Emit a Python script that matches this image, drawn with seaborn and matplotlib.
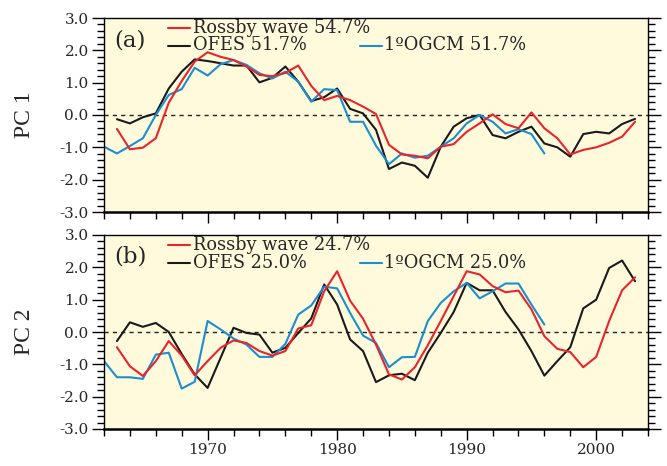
import numpy as np
import pandas as pd
import matplotlib
matplotlib.use("Agg")
import matplotlib.pyplot as plt
from matplotlib.ticker import MultipleLocator, FormatStrFormatter
import seaborn as sns

# ---------------- data ----------------
years_red = list(range(1963, 2004))
years_black = list(range(1963, 2004))
years_blue = list(range(1962, 1997))

pc1_rossby = [-0.43, -1.06, -1.01, -0.72, 0.38, 1.05, 1.65, 1.94, 1.80, 1.70,
              1.50, 1.24, 1.20, 1.30, 1.53, 0.90, 0.46, 0.59, 0.46, 0.26,
              0.03, -0.92, -1.22, -1.26, -1.34, -0.98, -0.90, -0.52, -0.26, 0.02,
              -0.28, -0.41, 0.08, -0.41, -0.72, -1.22, -1.08, -1.00, -0.86, -0.67,
              -0.21]
pc1_ofes = [-0.13, -0.26, -0.07, 0.05, 0.82, 1.34, 1.72, 1.67, 1.60, 1.53,
            1.53, 1.01, 1.15, 1.50, 1.03, 0.43, 0.55, 0.82, 0.19, 0.05,
            -0.46, -1.67, -1.47, -1.57, -1.94, -0.98, -0.36, -0.10, 0.00, -0.62,
            -0.72, -0.52, -0.36, -0.88, -1.00, -1.29, -0.59, -0.52, -0.57, -0.28,
            -0.12]
pc1_ogcm = [-0.98, -1.19, -0.96, -0.72, 0.00, 0.62, 0.80, 1.46, 1.22, 1.57,
            1.70, 1.55, 1.29, 1.13, 1.34, 1.03, 0.41, 0.80, 0.77, -0.21,
            -0.21, -0.95, -1.52, -1.19, -1.32, -1.26, -0.98, -0.72, -0.26, 0.00,
            -0.21, -0.57, -0.44, -0.59, -1.19]

pc2_rossby = [-0.47, -1.06, -1.36, -0.90, -0.28, -0.73, -1.34, -0.90, -0.49, -0.26,
              -0.34, -0.59, -0.73, -0.59, 0.11, 0.21, 1.26, 1.88, 0.97, 0.41,
              -0.39, -1.31, -1.47, -1.09, -0.41, 0.34, 1.11, 1.88, 1.78, 1.42,
              1.23, 1.28, 0.70, -0.13, -0.52, -0.62, -1.09, -0.77, 0.34, 1.29,
              1.69]
pc2_ofes = [-0.28, 0.30, 0.16, 0.28, 0.00, -0.68, -1.31, -1.73, -0.80, 0.13,
            -0.03, -0.08, -0.64, -0.49, -0.03, 0.42, 1.47, 0.85, -0.23, -0.59,
            -1.55, -1.34, -1.29, -1.49, -0.64, -0.03, 0.62, 1.52, 1.29, 1.29,
            0.62, 0.08, -0.59, -1.35, -0.90, -0.47, 0.73, 1.00, 1.98, 2.21,
            1.57]
pc2_ogcm = [-0.90, -1.40, -1.40, -1.45, -0.70, -0.64, -1.75, -1.54, 0.34, 0.08,
            -0.20, -0.39, -0.77, -0.77, -0.37, 0.54, 0.82, 1.40, 1.35, 0.59,
            -0.11, -0.34, -1.09, -0.78, -0.77, 0.34, 0.90, 1.26, 1.52, 1.04,
            1.26, 1.50, 1.50, 0.85, 0.23]

labels_a = ["Rossby wave 54.7%", "OFES 51.7%", "1\u00baOGCM 51.7%"]
labels_b = ["Rossby wave 24.7%", "OFES 25.0%", "1\u00baOGCM 25.0%"]
panel_tags = ["(a)", "(b)"]
ylabels = ["PC 1", "PC 2"]
colors = {"Rossby": "#e8242c", "OFES": "#1a1a1a", "OGCM": "#1a8fd0"}

# ---------------- plotting ----------------
sns.set_theme(style="white")
plt.rcParams["font.family"] = ["DejaVu Serif"]

fig = plt.figure(figsize=(6.67, 4.66), dpi=100)
ax_w = 544 / 667
ax_h = 194 / 466
ax_l = 104 / 667
ax1 = fig.add_axes([ax_l, 1 - 212 / 466, ax_w, ax_h])
ax2 = fig.add_axes([ax_l, 1 - 429 / 466, ax_w, ax_h])

def make_df(r, o, g):
    frames = [
        pd.DataFrame({"year": years_red, "value": r, "series": "Rossby"}),
        pd.DataFrame({"year": years_black, "value": o, "series": "OFES"}),
        pd.DataFrame({"year": years_blue, "value": g, "series": "OGCM"}),
    ]
    return pd.concat(frames, ignore_index=True)

panels = [
    (ax1, make_df(pc1_rossby, pc1_ofes, pc1_ogcm), labels_a),
    (ax2, make_df(pc2_rossby, pc2_ofes, pc2_ogcm), labels_b),
]

LW = 1.5
for i, (ax, df, labs) in enumerate(panels):
    ax.set_facecolor("#fffadc")
    ax.axhline(0, color="#222222", lw=1.0, ls=(0, (3, 3)), zorder=1)
    for name in ["OFES", "OGCM", "Rossby"]:
        sns.lineplot(data=df[df["series"] == name], x="year", y="value",
                     color=colors[name], lw=LW, ax=ax, legend=False,
                     estimator=None, sort=True, zorder=3 if name == "Rossby" else 2)
    ax.set_xlim(1962, 2004)
    ax.set_ylim(-3, 3)
    ax.set_xlabel("")
    ax.set_ylabel("")
    ax.xaxis.set_major_locator(MultipleLocator(10))
    ax.xaxis.set_minor_locator(MultipleLocator(2))
    ax.yaxis.set_major_locator(MultipleLocator(1))
    ax.yaxis.set_minor_locator(MultipleLocator(0.2))
    ax.yaxis.set_major_formatter(FormatStrFormatter("%.1f"))
    ax.tick_params(axis="both", which="both", direction="out", color="black",
                   width=1.0, labelsize=11, pad=2)
    ax.tick_params(axis="y", which="major", length=9, left=True, right=True)
    ax.tick_params(axis="y", which="minor", length=5, left=True, right=True)
    ax.tick_params(axis="x", which="major", length=8, bottom=True, top=False)
    ax.tick_params(axis="x", which="minor", length=5, bottom=True, top=False)
    for sp in ax.spines.values():
        sp.set_visible(True)
        sp.set_color("black")
        sp.set_linewidth(1.0)
    ax.spines["bottom"].set_linewidth(1.8)
    if i == 0:
        ax.tick_params(axis="x", labelbottom=False)

    # legend-like annotations
    tr = ax.transAxes
    y_r, y_k = 1 - 10 / 194, 1 - 27.5 / 194
    ax.plot([0.118, 0.158], [y_r, y_r], color=colors["Rossby"], lw=LW, transform=tr)
    ax.plot([0.118, 0.158], [y_k, y_k], color=colors["OFES"], lw=LW, transform=tr)
    ax.plot([0.471, 0.511], [y_k, y_k], color=colors["OGCM"], lw=LW, transform=tr)
    ax.text(0.164, y_r, labs[0], transform=tr, fontsize=12.8, va="center", ha="left")
    ax.text(0.164, y_k, labs[1], transform=tr, fontsize=12.8, va="center", ha="left")
    ax.text(0.514, y_k, labs[2], transform=tr, fontsize=12.8, va="center", ha="left")
    ax.text(0.018, 1 - 22 / 194, panel_tags[i], transform=tr, fontsize=16.5,
            va="center", ha="left")

fig.text(25 / 667, 1 - 115 / 466, ylabels[0], rotation=90, fontsize=17,
         va="center", ha="center", family=["Liberation Serif"])
fig.text(25 / 667, 1 - 332 / 466, ylabels[1], rotation=90, fontsize=17,
         va="center", ha="center", family=["Liberation Serif"])

fig.savefig("out.png", dpi=100, facecolor="white")
